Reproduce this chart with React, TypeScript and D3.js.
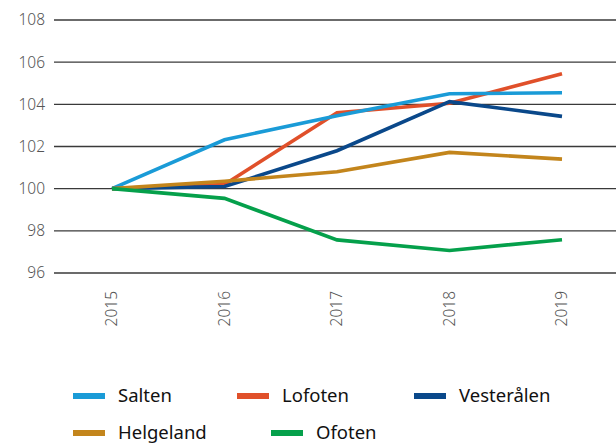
import React from "react";
import * as d3 from "d3";

const years = ["2015", "2016", "2017", "2018", "2019"];
const yTicks = [96, 98, 100, 102, 104, 106, 108];
const salten = [100, 102.32, 103.46, 104.5, 104.55];
const lofoten = [100, 100.2, 103.6, 104.05, 105.45];
const vesteralen = [100, 100.1, 101.8, 104.13, 103.43];
const helgeland = [100, 100.35, 100.8, 101.72, 101.4];
const ofoten = [100, 99.54, 97.57, 97.07, 97.58];

const series = [
  { name: "Lofoten", values: lofoten, color: "#e0502a" },
  { name: "Salten", values: salten, color: "#1a9bd7" },
  { name: "Vesterålen", values: vesteralen, color: "#0a488a" },
  { name: "Helgeland", values: helgeland, color: "#c3851c" },
  { name: "Ofoten", values: ofoten, color: "#05a04b" },
];

const legendItems = [
  { name: "Salten", color: "#1a9bd7", row: 0, x: 73 },
  { name: "Lofoten", color: "#e0502a", row: 0, x: 237 },
  { name: "Vesterålen", color: "#0a488a", row: 0, x: 414 },
  { name: "Helgeland", color: "#c3851c", row: 1, x: 73 },
  { name: "Ofoten", color: "#05a04b", row: 1, x: 271 },
];

export default function App() {
  const W = 616, H = 448;
  const x = d3.scalePoint<string>().domain(years).range([112, 562]);
  const y = d3.scaleLinear().domain([96, 108]).range([273, 20]);
  const line = d3
    .line<number>()
    .x((_, i) => x(years[i]) as number)
    .y((v) => y(v));
  const font = "'Noto Sans', sans-serif";
  return (
    <svg width={W} height={H} style={{ position: "absolute", left: 0, top: 0 }}>
      {yTicks.map((t) => (
        <g key={t}>
          <line x1={54} x2={616} y1={y(t)} y2={y(t)} stroke="#3a3a3a" strokeWidth={1.3} />
          <text x={45} y={y(t)} dy="0.35em" textAnchor="end" fontFamily={font} fontSize={15.5} fill="#555" fontWeight={300}>
            {t}
          </text>
        </g>
      ))}
      {years.map((yr) => (
        <text
          key={yr}
          transform={`translate(${(x(yr) as number) + 5},291) rotate(-90)`}
          textAnchor="end"
          fontFamily={font}
          fontSize={15.5}
          fill="#555"
          fontWeight={300}
        >
          {yr}
        </text>
      ))}
      {series.map((s) => (
        <path key={s.name} d={line(s.values) || ""} fill="none" stroke={s.color} strokeWidth={3.6} strokeLinejoin="miter" />
      ))}
      {legendItems.map((l) => {
        const cy = l.row === 0 ? 396 : 433;
        return (
          <g key={l.name}>
            <rect x={l.x} y={cy - 3} width={32} height={6} fill={l.color} />
            <text x={l.x + 45} y={cy} dy="0.35em" fontFamily={font} fontSize={18.5} fill="#111">
              {l.name}
            </text>
          </g>
        );
      })}
    </svg>
  );
}
